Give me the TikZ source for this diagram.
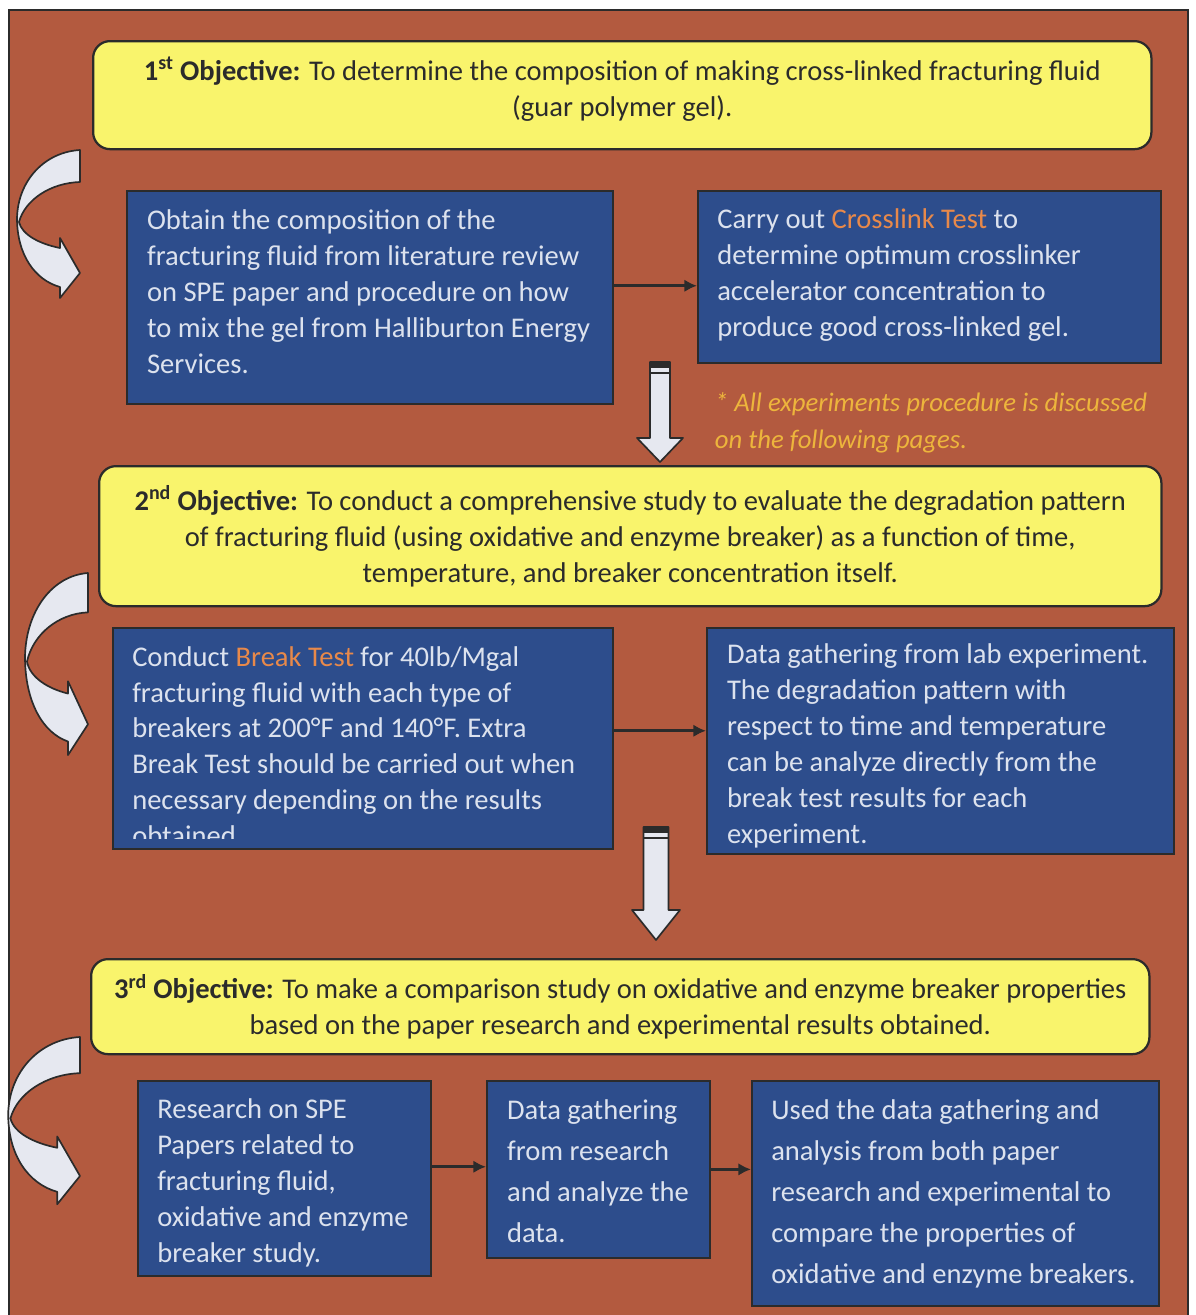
\documentclass[tikz,border=0pt]{standalone}
\usepackage{fontspec}
\setmainfont{Carlito}
\usetikzlibrary{arrows.meta}
\definecolor{frame}{HTML}{B35A3F}
\definecolor{pale}{HTML}{F9F46C}
\definecolor{stepblue}{HTML}{2D4D8C}
\definecolor{ink}{HTML}{2B2B2B}
\definecolor{steptext}{HTML}{DCE2EE}
\definecolor{hilite}{HTML}{E8894A}
\definecolor{notegold}{HTML}{EDB53C}
\definecolor{bandwhite}{HTML}{E6E8F0}

\begin{document}
\begin{tikzpicture}[x=0.025cm,y=-0.025cm,
  objbox/.style={draw=ink,line width=1.6pt,fill=pale,rounded corners=12pt,anchor=north west,
    align=center,text=ink,font=\fontsize{20.3}{25.6}\selectfont},
  stepbox/.style={draw=ink,line width=1.2pt,fill=stepblue,anchor=north west},
  steptxt/.style={anchor=west,align=left,text=steptext,inner sep=0pt,font=\fontsize{20.3}{25.6}\selectfont},
  link/.style={draw=ink,line width=2pt,-{Latex[length=9pt,width=9pt]}},
  swoop/.style={fill=bandwhite,draw=ink,line width=1.2pt,line join=round}]
  \useasboundingbox (0,0) rectangle (1196,1315);
  \fill[white] (0,0) rectangle (1196,1315);
  \draw[ink,line width=1pt,fill=frame] (9,10) rectangle (1188,1340);

  % objectives
  \node[objbox,minimum width=26.45cm,minimum height=2.7cm] (obj1) at (92,40)
    {\textbf{1\textsuperscript{st} Objective:} To determine the composition of making cross-linked fracturing fluid\\
     (guar polymer gel).\rule[-12pt]{0pt}{1pt}};
  \node[objbox,minimum width=26.55cm,minimum height=3.5cm] (obj2) at (98,465)
    {\textbf{2\textsuperscript{nd} Objective:} To conduct a comprehensive study to evaluate the degradation pattern\\
     of fracturing fluid (using oxidative and enzyme breaker) as a function of time,\\
     temperature, and breaker concentration itself.};
  \node[objbox,minimum width=26.45cm,minimum height=2.375cm] (obj3) at (90,958)
    {\textbf{3\textsuperscript{rd} Objective:} To make a comparison study on oxidative and enzyme breaker properties\\
     based on the paper research and experimental results obtained.};

  % first row
  \node[stepbox,minimum width=12.15cm,minimum height=5.325cm] (lit) at (126,190) {};
  \node[steptxt] (litx) at ([xshift=0.52cm,yshift=0.14cm]lit.west)
    {Obtain the composition of the\\fracturing fluid from literature review\\on SPE paper and procedure on how\\
     to mix the gel from Halliburton Energy\\Services.};
  \node[stepbox,minimum width=11.575cm,minimum height=4.3cm] (xlink) at (697,190) {};
  \node[steptxt] (xlinkx) at ([xshift=0.5cm,yshift=0.05cm]xlink.west)
    {Carry out {\color{hilite}Crosslink Test} to\\determine optimum crosslinker\\accelerator concentration to\\
     produce good cross-linked gel.};
  \draw[link] ([yshift=0.29cm]lit.east) -- ([yshift=0.29cm]lit.east -| xlink.west);
  \node[anchor=north west,align=left,text=notegold,font=\fontsize{19}{26.3}\selectfont\itshape] (note) at (710,388)
    {* All experiments procedure is discussed\\on the following pages.};

  % second row
  \node[stepbox,minimum width=12.5cm,minimum height=5.525cm] (brk) at (112,627) {};
  \begin{scope}
    \clip (brk.north west) rectangle ([yshift=0.275cm]brk.south east);
    \node[steptxt,font=\fontsize{20.3}{25.5}\selectfont] (brkx) at (132,746)
      {Conduct {\color{hilite}Break Test} for 40lb/Mgal\\fracturing fluid with each type of\\
       breakers at 200°F and 140°F. Extra\\Break Test should be carried out when\\
       necessary depending on the results\\obtained.};
  \end{scope}
  \node[stepbox,minimum width=11.675cm,minimum height=5.65cm] (lab) at (706,627) {};
  \node[steptxt] (labx) at ([xshift=0.52cm,yshift=-0.12cm]lab.west)
    {Data gathering from lab experiment.\\The degradation pattern with\\respect to time and temperature\\
     can be analyze directly from the\\break test results for each\\experiment.};
  \draw[link] ([yshift=0.19cm]brk.east) -- ([yshift=0.19cm]brk.east -| lab.west);

  % third row
  \node[stepbox,minimum width=7.325cm,minimum height=4.875cm] (spe) at (137,1080) {};
  \node[steptxt] (spex) at ([xshift=0.5cm,yshift=-0.12cm]spe.west)
    {Research on SPE\\Papers related to\\fracturing fluid,\\oxidative and enzyme\\breaker study.};
  \node[stepbox,minimum width=5.575cm,minimum height=4.425cm] (gather) at (486,1080) {};
  \node[steptxt,font=\fontsize{20.3}{29.2}\selectfont] (gatherx) at ([xshift=0.52cm,yshift=-0.05cm]gather.west)
    {Data gathering\\from research\\and analyze the\\data.};
  \node[stepbox,minimum width=10.175cm,minimum height=5.625cm] (compare) at (751,1080) {};
  \node[steptxt,font=\fontsize{20.3}{29.2}\selectfont] (comparex) at ([xshift=0.5cm,yshift=-0.02cm]compare.west)
    {Used the data gathering and\\analysis from both paper\\research and experimental to\\
     compare the properties of\\oxidative and enzyme breakers.};
  \draw[link] ([yshift=0.29cm]spe.east) -- ([yshift=0.29cm]spe.east -| gather.west);
  \draw[link] (gather.east) -- (gather.east -| compare.west);

  % curved arrows on the left
  \foreach \tx/\ty/\sx/\sy in {80/150/1/1, 88/573/1/1.23, 80/1037/1.14/1.13}{
    \draw[swoop,shift={(\tx,\ty)},xscale=\sx,yscale=\sy]
      (0,0) .. controls (-35,2) and (-62,30) .. (-63,68)
      .. controls (-63,105) and (-45,130) .. (-20,137) -- (-20,148) -- (0,123) -- (-20,88) -- (-20,98)
      .. controls (-40,94) and (-58,85) .. (-61,72)
      .. controls (-55,50) and (-30,33) .. (0,32) -- cycle;
  }

  % down arrows between objectives
  \foreach \cx/\ty/\hy/\tipy/\sw/\hw in {660/362/438/462/10/23, 656/827/910/940/12.5/24}{
    \draw[swoop] (\cx-\sw,\ty) -- (\cx+\sw,\ty) -- (\cx+\sw,\hy) -- (\cx+\hw,\hy) -- (\cx,\tipy)
      -- (\cx-\hw,\hy) -- (\cx-\sw,\hy) -- cycle;
    \fill[ink] (\cx-\sw,\ty) rectangle (\cx+\sw,\ty+6);
    \draw[ink,line width=0.8pt] (\cx-\sw,\ty+11) -- (\cx+\sw,\ty+11);
  }
\end{tikzpicture}
\end{document}
